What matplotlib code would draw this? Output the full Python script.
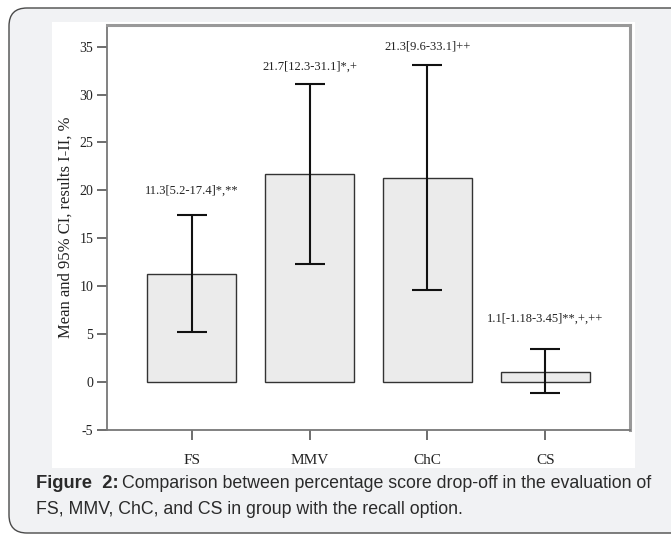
import matplotlib.pyplot as plt
import matplotlib.patches as patches

# data
groups = ["FS", "MMV", "ChC", "CS"]
means = [11.3, 21.7, 21.3, 1.1]
ci_low = [5.2, 12.3, 9.6, -1.18]
ci_high = [17.4, 31.1, 33.1, 3.45]
labels = ["11.3[5.2-17.4]*,**", "21.7[12.3-31.1]*,+",
          "21.3[9.6-33.1]++", "1.1[-1.18-3.45]**,+,++"]
yticks = [-5, 0, 5, 10, 15, 20, 25, 30, 35]

# layout
label_gap = [2.6, 1.8, 1.9, 3.2]
W, H = 671, 535
serif = ["Liberation Serif", "DejaVu Serif"]
sans = ["Liberation Sans", "DejaVu Sans"]

fig = plt.figure(figsize=(W / 100, H / 100), dpi=100)

# page frame with rounded corners and grey fill
bg = fig.add_axes([0, 0, 1, 1])
bg.set_xlim(0, W)
bg.set_ylim(H, 0)
bg.axis("off")
frame = patches.FancyBboxPatch((9, 8), 720, 525,
                               boxstyle="round,pad=0,rounding_size=18",
                               facecolor="#f1f2f4", edgecolor="#4a4a4a",
                               linewidth=1.0)
bg.add_patch(frame)
bg.add_patch(patches.Rectangle((52, 22), 583, 446, facecolor="white",
                               edgecolor="none"))

head = bg.text(36, 483, "Figure  2:", fontsize=13.2, fontweight="bold",
               family=sans, va="center", ha="left", color="#2a2a2a")
fig.canvas.draw()
ext = head.get_window_extent()
bg.text(36 + ext.width + 3, 483,
        "Comparison between percentage score drop-off in the evaluation of",
        fontsize=12.8, family=sans, va="center", ha="left", color="#2a2a2a")
bg.text(36, 509, "FS, MMV, ChC, and CS in group with the recall option.",
        fontsize=12.8, family=sans, va="center", ha="left", color="#2a2a2a")

ax = fig.add_axes([107 / W, 1 - 430 / H, 523 / W, 405 / H])
ax.set_facecolor("white")
x = list(range(1, len(groups) + 1))
yerr = [[m - lo for m, lo in zip(means, ci_low)],
        [hi - m for m, hi in zip(means, ci_high)]]
ax.bar(x, means, width=0.755, color="#ebebeb", edgecolor="#333333",
       linewidth=1.0, zorder=2)
ax.errorbar(x, means, yerr=yerr, fmt="none", ecolor="#111111",
            elinewidth=1.5, capsize=11, capthick=1.5, zorder=3)
for xi, hi, txt, gap in zip(x, ci_high, labels, label_gap):
    ax.text(xi, hi + gap, txt, ha="center", va="center", fontsize=9,
            family=serif, color="#222222")

ax.set_xlim(1 - 0.719, 4 + 0.719)
ax.set_ylim(-5, 37.26)
ax.set_xticks(x)
ax.set_xticklabels(groups, family=serif, fontsize=11, color="#222222")
ax.set_yticks(yticks)
ax.set_yticklabels([str(t) for t in yticks], family=serif, fontsize=10,
                   color="#222222")
ax.tick_params(axis="both", direction="out", length=7, width=1.2,
               color="#555555")
ax.tick_params(axis="x", pad=10)
ax.tick_params(axis="y", pad=3)
ax.set_ylabel("Mean and 95% CI, results I-II, %", family=serif, fontsize=12,
              color="#222222", labelpad=4)
for side in ["left", "bottom"]:
    ax.spines[side].set_color("#777777")
    ax.spines[side].set_linewidth(1.3)
for side in ["top", "right"]:
    ax.spines[side].set_color("#999999")
    ax.spines[side].set_linewidth(2.2)

fig.savefig("out.png", dpi=100)
